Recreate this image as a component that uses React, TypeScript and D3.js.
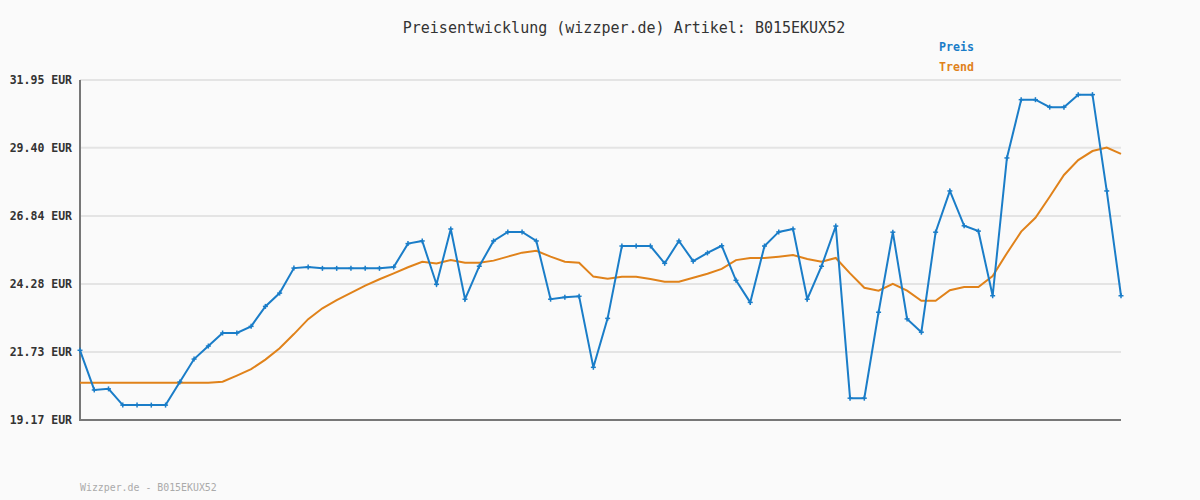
import React from "react";
import * as d3 from "d3";

const yTicks = [19.17, 21.73, 24.28, 26.84, 29.4, 31.95];
const yTickLabels = ["19.17 EUR", "21.73 EUR", "24.28 EUR", "26.84 EUR", "29.40 EUR", "31.95 EUR"];

const preis = [
  21.79, 20.3, 20.34, 19.73, 19.73, 19.73, 19.73, 20.6, 21.46, 21.95,
  22.44, 22.44, 22.69, 23.44, 23.94, 24.88, 24.92, 24.87, 24.87, 24.87,
  24.87, 24.87, 24.92, 25.8, 25.9, 24.27, 26.35, 23.71, 24.95, 25.9,
  26.24, 26.24, 25.9, 23.71, 23.78, 23.82, 21.15, 22.99, 25.71, 25.71,
  25.71, 25.06, 25.9, 25.14, 25.45, 25.72, 24.42, 23.59, 25.71, 26.24,
  26.35, 23.71, 24.95, 26.46, 19.99, 19.99, 23.22, 26.23, 22.97, 22.47,
  26.23, 27.78, 26.47, 26.27, 23.84, 29.02, 31.21, 31.21, 30.93, 30.93,
  31.4, 31.4, 27.78, 23.84,
];

const trend = [
  20.57, 20.57, 20.57, 20.57, 20.57, 20.57, 20.57, 20.57, 20.57, 20.57,
  20.61, 20.84, 21.08, 21.44, 21.87, 22.4, 22.96, 23.37, 23.68, 23.95,
  24.22, 24.46, 24.68, 24.91, 25.12, 25.05, 25.18, 25.08, 25.08, 25.16,
  25.31, 25.46, 25.53, 25.31, 25.12, 25.08, 24.56, 24.48, 24.55, 24.55,
  24.47, 24.37, 24.37, 24.52, 24.67, 24.85, 25.18, 25.26, 25.26, 25.31,
  25.37, 25.22, 25.12, 25.26, 24.68, 24.14, 24.03, 24.29, 24.03, 23.65,
  23.65, 24.05, 24.17, 24.17, 24.58, 25.44, 26.25, 26.77, 27.56, 28.38,
  28.94, 29.28, 29.41, 29.17,
];

const title = "Preisentwicklung (wizzper.de) Artikel: B015EKUX52";
const footer = "Wizzper.de - B015EKUX52";
const legendItems = ["Preis", "Trend"];

const W = 1200;
const H = 500;
const left = 80;
const right = 1121;
const top = 80;
const bottom = 420;
const BLUE = "#1a7dc8";
const ORANGE = "#e0821a";
const MONO = "'DejaVu Sans Mono', 'Liberation Mono', monospace";

export default function App() {
  const x = d3.scaleLinear().domain([0, preis.length - 1]).range([left, right]);
  const y = d3.scaleLinear().domain([yTicks[0], yTicks[yTicks.length - 1]]).range([bottom, top]);
  const line = d3
    .line<number>()
    .x((_, i) => x(i))
    .y((d) => y(d));

  return (
    <svg
      width={W}
      height={H}
      style={{ position: "absolute", left: 0, top: 0, display: "block" }}
    >
      <rect x={0} y={0} width={W} height={H} fill="#fafafa" />
      <text
        x={624}
        y={33}
        textAnchor="middle"
        fontFamily={MONO}
        fontSize={15}
        fill="#333"
      >
        {title}
      </text>
      {legendItems.map((t, i) => (
        <text
          key={t}
          x={974}
          y={51 + i * 20}
          textAnchor="end"
          fontFamily={MONO}
          fontSize={11.6}
          fontWeight="bold"
          fill={i === 0 ? BLUE : ORANGE}
        >
          {t}
        </text>
      ))}
      {yTicks.map((t, i) => (
        <g key={t}>
          <line
            x1={left}
            x2={right}
            y1={y(t)}
            y2={y(t)}
            stroke="#e4e4e4"
            strokeWidth={2}
          />
          <text
            x={72}
            y={y(t) + 4}
            textAnchor="end"
            fontFamily={MONO}
            fontSize={11.5}
            fontWeight="bold"
            fill="#333"
          >
            {yTickLabels[i]}
          </text>
        </g>
      ))}
      <line x1={left} x2={left} y1={top} y2={bottom + 1} stroke="#777" strokeWidth={2} />
      <line x1={left - 1} x2={right} y1={bottom} y2={bottom} stroke="#777" strokeWidth={2} />
      <path d={line(trend) || ""} fill="none" stroke={ORANGE} strokeWidth={2} />
      <path d={line(preis) || ""} fill="none" stroke={BLUE} strokeWidth={2} />
      {preis.map((v, i) => (
        <g key={i} stroke={BLUE} strokeWidth={1.5}>
          <line x1={x(i) - 2.5} x2={x(i) + 2.5} y1={y(v)} y2={y(v)} />
          <line x1={x(i)} x2={x(i)} y1={y(v) - 2.5} y2={y(v) + 2.5} />
        </g>
      ))}
      <text
        x={80}
        y={491}
        fontFamily={MONO}
        fontSize={9.9}
        fill="#aaa"
      >
        {footer}
      </text>
    </svg>
  );
}
